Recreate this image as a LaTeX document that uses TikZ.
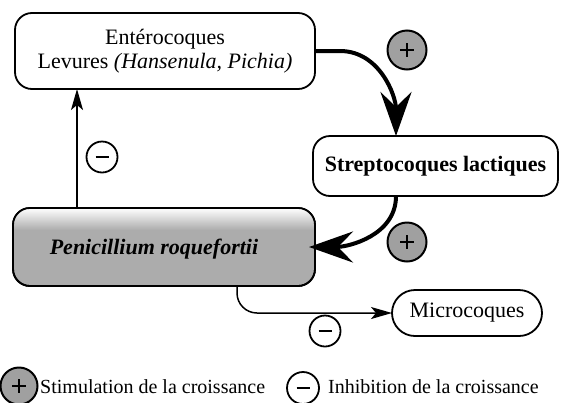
\documentclass[tikz,border=0pt]{standalone}
\usepackage{fontspec}
\setmainfont{Liberation Serif}
\usetikzlibrary{arrows.meta,calc}
\definecolor{penfill}{RGB}{172,172,172}
\definecolor{plusfill}{RGB}{160,160,160}
\tikzset{
  box/.style={draw, line width=1.8pt, rounded corners=17pt, inner sep=0pt, outer sep=0pt, align=center, font=\fontsize{22}{24}\selectfont},
  thinarrow/.style={line width=1.5pt, -{Stealth[length=21pt,width=12pt,inset=5pt]}},
  thickarrow/.style={line width=4pt, -{Stealth[length=44pt,width=31pt,inset=15pt]}},
  plusc/.style={circle, draw, line width=2pt, fill=plusfill, minimum size=#1, inner sep=0pt,
    path picture={\draw[line width=2pt] ($(path picture bounding box.center)+(-7,0)$) -- ($(path picture bounding box.center)+(7,0)$);
                  \draw[line width=2pt] ($(path picture bounding box.center)+(0,-7)$) -- ($(path picture bounding box.center)+(0,7)$);}},
  minusc/.style={circle, draw, line width=1.8pt, fill=white, minimum size=#1, inner sep=0pt,
    path picture={\draw[line width=2pt] ($(path picture bounding box.center)+(-6.5,0)$) -- ($(path picture bounding box.center)+(6.5,0)$);}},
  legend/.style={anchor=base west, inner sep=0pt, font=\fontsize{20}{24}\selectfont}
}
\begin{document}
\begin{tikzpicture}[x=1pt,y=-1pt]
\useasboundingbox (0,0) rectangle (561,402);
% boxes
\node[box, minimum width=300pt, minimum height=76pt] (ent) at (165,51)
  {Entérocoques\\Levures \textit{(Hansenula, Pichia)}};
\node[box, minimum width=245pt, minimum height=60pt, font=\fontsize{22}{24}\selectfont\bfseries] (strep) at (435.5,166)
  {Streptocoques lactiques};
\node[box, minimum width=302pt, minimum height=78pt, fill=penfill] (pen) at (164,247) {};
\begin{scope}
  \clip[rounded corners=17pt] (pen.north west) rectangle (pen.south east);
  \shade[top color=white, bottom color=penfill] (pen.north west) rectangle ($(pen.north east)+(0,22)$);
\end{scope}
\draw[line width=1.8pt, rounded corners=17pt] (pen.north west) rectangle (pen.south east);
\node[font=\fontsize{22}{24}\selectfont\bfseries\itshape, anchor=base, inner sep=0pt] (pentext) at (154,254) {Penicillium roquefortii};
\node[box, minimum width=150pt, minimum height=46pt, rounded corners=23pt] (micro) at (467,313) {Microcoques};
% helper coordinates
\coordinate (vx) at (77,0);
\coordinate (cx) at (396,0);
\coordinate (mx) at (237,0);
% connectors
\draw[thinarrow] (pen.north -| vx) -- (ent.south -| vx);
\draw[thickarrow] (ent.east) -- ++(25,0) to[out=0,in=90] (strep.north -| cx);
\draw[thickarrow] (strep.south -| cx) to[out=-90,in=0] ($(pen.east)+(-6,0)$);
\draw[thinarrow, rounded corners=20pt] (pen.south -| mx) |- (micro.west);
% signs
\node[plusc=39pt] (p1) at (407,50) {};
\node[plusc=39pt] (p2) at (407,242) {};
\node[minusc=31pt] (m1) at (102,157) {};
\node[minusc=31pt] (m2) at (325,331) {};
% legend
\node[plusc=37pt] (lp) at (19,386) {};
\node[legend] (lpt) at (40,393) {Stimulation de la croissance};
\node[minusc=32pt] (lm) at (303,388) {};
\node[legend] (lmt) at (328,393) {Inhibition de la croissance};
\end{tikzpicture}
\end{document}
